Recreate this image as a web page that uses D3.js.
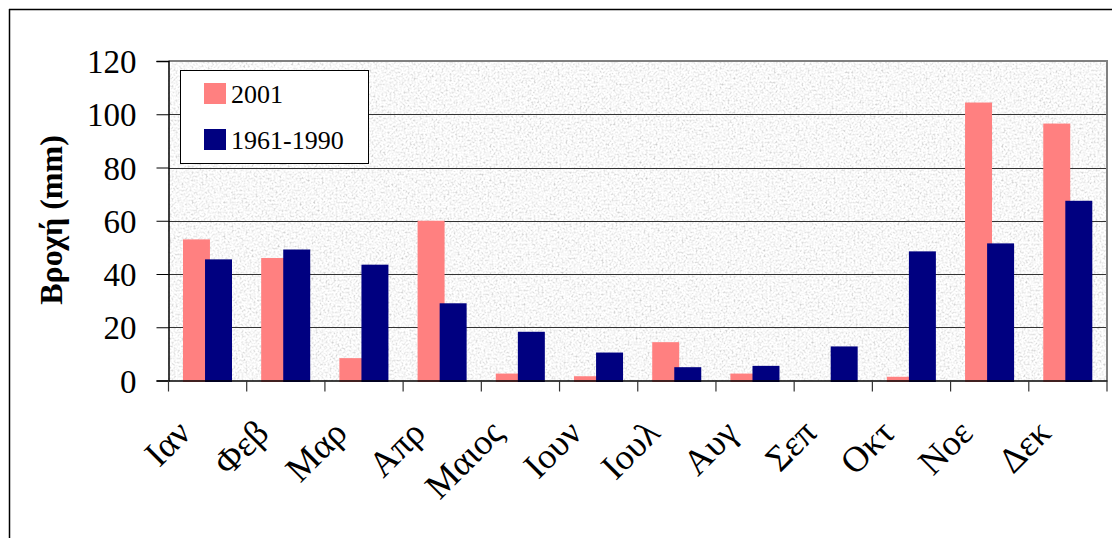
<!DOCTYPE html>
<html>
<head>
<meta charset="utf-8">
<script src="https://cdn.jsdelivr.net/npm/d3@7"></script>
<style>
  body { margin: 0; background: #fff; }
  text { font-family: "Liberation Serif", "Times New Roman", serif; fill: #000; }
</style>
</head>
<body>
<div id="chart"></div>
<script>
var months = ["Ιαν", "Φεβ", "Μαρ", "Απρ", "Μαιος", "Ιουν", "Ιουλ", "Αυγ", "Σεπ", "Οκτ", "Νοε", "Δεκ"];
var rain2001 = [53, 46, 8.4, 60, 2.6, 1.6, 14.4, 2.6, 0, 1.4, 104.4, 96.5];
var rainNormal = [45.5, 49.2, 43.5, 29, 18.3, 10.5, 5, 5.5, 12.8, 48.5, 51.5, 67.5];
var yTicks = [0, 20, 40, 60, 80, 100, 120];
var seriesNames = ["2001", "1961-1990"];
var colors = ["#ff8080", "#000080"];

var svgWidth = 1112;
var svgHeight = 538;

var plot = { left: 168.5, right: 1107, top: 61, bottom: 380.5 };

var svg = d3.select("#chart")
  .append("svg")
  .attr("width", svgWidth)
  .attr("height", svgHeight);

// granite-like texture for the plot area
var defs = svg.append("defs");
var filt = defs.append("filter")
  .attr("id", "granite")
  .attr("filterUnits", "userSpaceOnUse")
  .attr("x", plot.left).attr("y", plot.top)
  .attr("width", plot.right - plot.left).attr("height", plot.bottom - plot.top);
filt.append("feTurbulence")
  .attr("type", "fractalNoise")
  .attr("baseFrequency", 0.5)
  .attr("numOctaves", 3)
  .attr("seed", 7)
  .attr("result", "noise");
filt.append("feColorMatrix")
  .attr("type", "matrix")
  .attr("values", "0.33 0.33 0.33 0 0  0.33 0.33 0.33 0 0  0.33 0.33 0.33 0 0  0 0 0 0 1")
  .attr("result", "gray");
var ct = filt.append("feComponentTransfer");
["feFuncR", "feFuncG", "feFuncB"].forEach(function(f) {
  ct.append(f).attr("type", "linear").attr("slope", 1.4).attr("intercept", 0.25);
});

// outer frame (top and left edges visible)
svg.append("line").attr("x1", 9).attr("x2", svgWidth).attr("y1", 9.5).attr("y2", 9.5)
  .attr("stroke", "#000").attr("stroke-width", 1.5);
svg.append("line").attr("x1", 9.5).attr("x2", 9.5).attr("y1", 9).attr("y2", svgHeight)
  .attr("stroke", "#000").attr("stroke-width", 1.5);

var x = d3.scaleBand()
  .domain(months)
  .range([plot.left, plot.right])
  .padding(0);

var y = d3.scaleLinear()
  .domain([0, 120])
  .range([plot.bottom, plot.top]);

var bw = x.bandwidth();

// plot background
svg.append("rect")
  .attr("x", plot.left).attr("y", plot.top)
  .attr("width", plot.right - plot.left)
  .attr("height", plot.bottom - plot.top)
  .attr("fill", "#eee")
  .attr("filter", "url(#granite)");

// gridlines
svg.append("g")
  .selectAll("line")
  .data(yTicks.filter(function(d) { return d > 0 && d < 120; }))
  .enter()
  .append("line")
  .attr("x1", plot.left).attr("x2", plot.right)
  .attr("y1", function(d) { return Math.round(y(d)) + 0.5; })
  .attr("y2", function(d) { return Math.round(y(d)) + 0.5; })
  .attr("stroke", "#333")
  .attr("stroke-width", 1);

// bars: 2001 first, then the long-term mean overlapping it
var barW = bw * 0.345;
var offsets = [0.185, 0.467];
[rain2001, rainNormal].forEach(function(values, i) {
  svg.append("g")
    .selectAll("rect")
    .data(values)
    .enter()
    .append("rect")
    .attr("x", function(d, j) { return x(months[j]) + bw * offsets[i]; })
    .attr("y", function(d) { return y(d); })
    .attr("width", barW)
    .attr("height", function(d) { return d > 0 ? y(0) - y(d) + 1.5 : 0; })
    .attr("fill", colors[i]);
});

// plot border top/right
svg.append("path")
  .attr("d", "M" + plot.left + "," + plot.top + "H" + plot.right + "V" + plot.bottom)
  .attr("fill", "none")
  .attr("stroke", "#808080")
  .attr("stroke-width", 2);

// y axis
var leftAxis = d3.axisLeft(y)
  .tickValues(yTicks)
  .tickSize(12)
  .tickPadding(20)
  .tickFormat(d3.format("d"));

var yAxisG = svg.append("g")
  .attr("transform", "translate(" + plot.left + ",0)")
  .call(leftAxis);
yAxisG.select(".domain").attr("stroke", "#000").attr("stroke-width", 1.5);
yAxisG.selectAll(".tick line").attr("stroke", "#000");
yAxisG.selectAll(".tick text")
  .attr("font-size", 33)
  .attr("dy", "0.35em");

// x axis
var bottomAxis = d3.axisBottom(x)
  .tickSize(0)
  .tickFormat("");

var xAxisG = svg.append("g")
  .attr("transform", "translate(0," + plot.bottom + ")")
  .call(bottomAxis);
xAxisG.select(".domain").attr("stroke", "#000").attr("stroke-width", 1.5);

// category separator ticks
svg.append("g")
  .selectAll("line")
  .data(months.concat(["end"]))
  .enter()
  .append("line")
  .attr("x1", function(d, i) { return plot.left + i * bw; })
  .attr("x2", function(d, i) { return plot.left + i * bw; })
  .attr("y1", plot.bottom)
  .attr("y2", plot.bottom + 11)
  .attr("stroke", "#333")
  .attr("stroke-width", 1.2);

// rotated month labels
svg.append("g")
  .selectAll("text")
  .data(months)
  .enter()
  .append("text")
  .attr("transform", function(d) {
    var cx = x(d) + bw / 2 - 15;
    return "translate(" + cx + ",435) rotate(-45)";
  })
  .attr("text-anchor", "end")
  .attr("font-size", 36)
  .text(function(d) { return d; });

// y axis title
svg.append("text")
  .attr("transform", "translate(62,220) rotate(-90)")
  .attr("text-anchor", "middle")
  .attr("font-size", 32)
  .attr("font-weight", "bold")
  .text("Βροχή (mm)");

// legend
var legend = svg.append("g");
legend.append("rect")
  .attr("x", 180.5).attr("y", 70.5)
  .attr("width", 188).attr("height", 93)
  .attr("fill", "#fff")
  .attr("stroke", "#000")
  .attr("stroke-width", 1);

seriesNames.forEach(function(name, i) {
  var ly = 83 + i * 46;
  legend.append("rect")
    .attr("x", 204).attr("y", ly)
    .attr("width", 22).attr("height", 21)
    .attr("fill", colors[i]);
  legend.append("text")
    .attr("x", 231).attr("y", ly + 20)
    .attr("font-size", 26)
    .text(name);
});
</script>
</body>
</html>
